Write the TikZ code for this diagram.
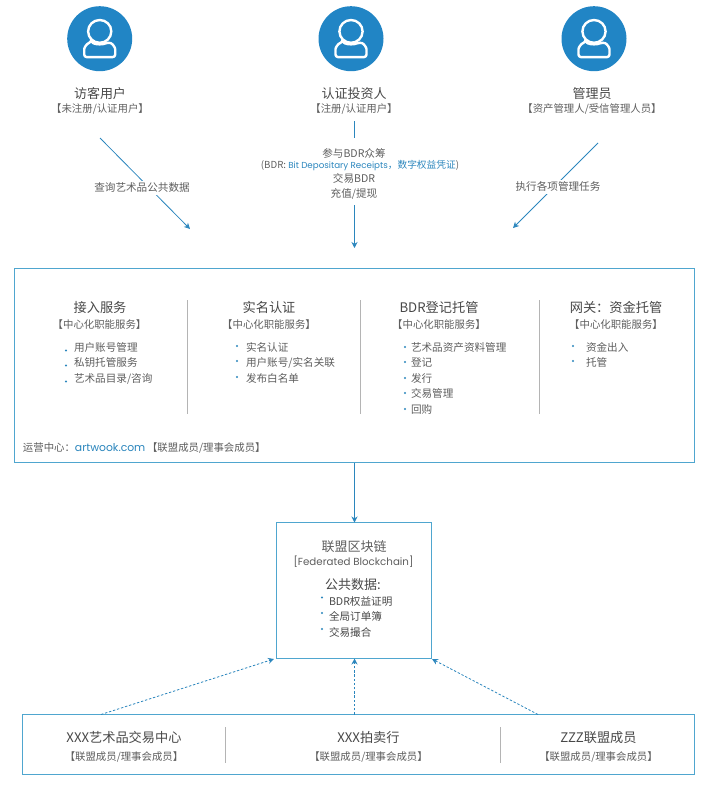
\documentclass[tikz,border=0pt]{standalone}
\usepackage{fontspec}
\setmainfont{Noto Sans CJK SC}
\newfontfamily\lat[Scale=0.9]{Poppins}
\usetikzlibrary{arrows.meta}
\definecolor{bluef}{HTML}{2185C5}
\definecolor{boxb}{HTML}{4FA6CF}
\definecolor{txt}{HTML}{5E5E5E}
\definecolor{ttl}{HTML}{484848}
\definecolor{lnk}{HTML}{2B86BD}
\definecolor{divg}{HTML}{B4B4B4}
\newcommand{\fsz}[1]{\fontsize{#1}{#1}\selectfont}
\newcommand{\LT}[1]{{\lat #1}}
\tikzset{
  every node/.style={inner sep=0pt,outer sep=0pt,text=txt},
  words/.style={yshift=-.8pt},
  avatar/.style={circle,fill=bluef,minimum size=65pt},
  rolename/.style={words,font=\fsz{13},text=ttl},
  sublabel/.style={words,font=\fsz{10.4},text=txt},
  cardtitle/.style={words,font=\fsz{13.2},text=ttl},
  itemtext/.style={words,font=\fsz{10.6},text=txt,anchor=west},
  dot/.style={circle,fill=lnk,minimum size=2.2pt},
  flowlabel/.style={words,font=\fsz{10.6},text=txt},
  frame/.style={draw=boxb,line width=1.1pt,fill=white},
  flow/.style={draw=lnk,line width=.8pt,-{Stealth[length=6pt,width=6pt]}},
  plainflow/.style={draw=lnk,line width=.8pt},
  dashflow/.style={flow,dash pattern=on 2.4pt off 1.8pt},
  vdiv/.style={draw=divg,line width=1pt},
  vdivthin/.style={draw=divg,line width=.7pt},
  pics/person/.style={code={
    \draw[white,line width=2.4pt] (0,-7.3) ellipse (11.6pt and 11.4pt);
    \draw[white,line width=2.4pt,line join=round,rounded corners=2.5pt]
      (-8.5,3.6) .. controls (-13,5) and (-15.5,9) .. (-15.5,13) -- (-15.5,18.4) -- (15.5,18.4) -- (15.5,13)
      .. controls (15.5,9) and (13,5) .. (8.5,3.6) .. controls (3,6) and (-3,6) .. (-8.5,3.6) -- cycle;
  }}
}
\begin{document}
\begin{tikzpicture}[x=1pt,y=-1pt]
\useasboundingbox (0,0) rectangle (713,785);
% avatars
\node[avatar] (av1) at (99.7,38.7) {};
\node[avatar] (av2) at (351,38.7) {};
\node[avatar] (av3) at (594,38.7) {};
\pic at (av1.center) {person};
\pic at (av2.center) {person};
\pic at (av3.center) {person};
\node[rolename] (r1) at (100,93) {访客用户};
\node[sublabel] (s1) at (100,108) {【未注册/认证用户】};
\node[rolename] (r2) at (354,93) {认证投资人};
\node[sublabel] (s2) at (354,108) {【注册/认证用户】};
\node[rolename] (r3) at (592,93) {管理员};
\node[sublabel] (s3) at (592,108) {【资产管理人/受信管理人员】};
% frames
\node[frame,minimum width=680pt,minimum height=194pt] (main) at (354.5,365.5) {};
\node[frame,minimum width=155pt,minimum height=136pt] (chain) at (354,590.5) {};
\node[frame,minimum width=672pt,minimum height=60pt] (members) at (358.5,744.5) {};
% top flows
\coordinate (a1s) at (100,138);
\coordinate (a1e) at (190,229);
\draw[flow] (a1s) -- (a1e);
\node[flowlabel,fill=white,inner sep=2pt] (l1) at (142,187) {查询艺术品公共数据};
\coordinate (a3s) at (598,143);
\coordinate (a3e) at (513,228);
\draw[flow] (a3s) -- (a3e);
\node[flowlabel,fill=white,inner sep=2pt] (l3) at (558,186) {执行各项管理任务};
\coordinate (a2s) at (354.5,121);
\coordinate (a2m) at (354.5,138);
\coordinate (a2n) at (354.5,205);
\coordinate (a2e) at (354.5,248);
\draw[plainflow] (a2s) -- (a2m);
\draw[flow] (a2n) -- (a2e);
\node[flowlabel] (m1) at (354,153) {参与BDR众筹};
\node[words,font=\fsz{9.7}] (m2) at (360,165) {(BDR: \textcolor{lnk}{\LT{Bit Depositary Receipts}，数字权益凭证})};
\node[flowlabel] (m3) at (354,178) {交易BDR};
\node[flowlabel] (m4) at (354,193) {充值/提现};
% dividers main
\coordinate (d1t) at (187.5,300); \coordinate (d1b) at (187.5,414);
\coordinate (d2t) at (360.5,300); \coordinate (d2b) at (360.5,414);
\coordinate (d3t) at (539.5,300); \coordinate (d3b) at (539.5,414);
\draw[vdiv] (d1t) -- (d1b);
\draw[vdiv] (d2t) -- (d2b);
\draw[vdiv] (d3t) -- (d3b);
% column 1
\node[cardtitle] (c1) at (100,307) {接入服务};
\node[sublabel] (c1s) at (99.5,324) {【中心化职能服务】};
\foreach \n/\yy/\tx in {a/347/用户账号管理,b/362/私钥托管服务,c/378/{艺术品目录/咨询}}{
  \node[itemtext] (i1\n) at (74,\yy) {\tx};
  \node[dot] (b1\n) at (66,\yy+3.5) {};
}
% column 2
\node[cardtitle] (c2) at (269,307) {实名认证};
\node[sublabel] (c2s) at (269,324) {【中心化职能服务】};
\foreach \n/\yy/\tx in {a/347/实名认证,b/362/{用户账号/实名关联},c/378/发布白名单}{
  \node[itemtext] (i2\n) at (246,\yy) {\tx};
  \node[dot] (b2\n) at (237,\yy-1) {};
}
% column 3
\node[cardtitle] (c3) at (439,307) {BDR登记托管};
\node[sublabel] (c3s) at (439,324) {【中心化职能服务】};
\foreach \n/\yy/\tx in {a/347/艺术品资产资料管理,b/362/登记,c/378/发行,d/393/交易管理,e/409/回购}{
  \node[itemtext] (i3\n) at (411,\yy) {\tx};
  \node[dot] (b3\n) at (405,\yy) {};
}
% column 4
\node[cardtitle] (c4) at (616,307) {网关：资金托管};
\node[sublabel] (c4s) at (616,324) {【中心化职能服务】};
\foreach \n/\yy/\tx in {a/347/资金出入,b/362/托管}{
  \node[itemtext] (i4\n) at (586,\yy) {\tx};
  \node[dot] (b4\n) at (573,\yy-1) {};
}
\node[words,font=\fsz{10.4},anchor=west] (ops) at (23,447) {运营中心：\textcolor{lnk}{\lat\fsz{12}artwook.com}\,【联盟成员/理事会成员】};
% main to chain
\draw[flow] (main.south) -- (main.south |- chain.north);
% chain
\node[words,font=\fsz{13},text=txt] (ct) at (354,546) {联盟区块链};
\node[words,font=\fsz{11.4}] (cen) at (353.5,561) {\LT{[Federated Blockchain]}};
\node[words,font=\fsz{13},text=ttl] (cp) at (353,584) {公共数据:};
\foreach \n/\yy/\tx in {a/600.5/BDR权益证明,b/616/全局订单簿,c/632/交易撮合}{
  \node[words,font=\fsz{10.6},anchor=west,text=ttl] (e\n) at (329,\yy) {\tx};
  \node[dot] (f\n) at (322,\yy-3) {};
}
% members
\coordinate (m1d) at (101,714.5);
\coordinate (m2d) at (354.5,714.5);
\coordinate (m3d) at (538,714.5);
\coordinate (t1) at (274,659);
\coordinate (t3) at (432,659);
\draw[dashflow] (m1d) -- (t1);
\draw[dashflow] (m2d) -- (m2d |- chain.south);
\draw[dashflow] (m3d) -- (t3);
\coordinate (e1t) at (225.5,727); \coordinate (e1b) at (225.5,763);
\coordinate (e2t) at (500.5,727); \coordinate (e2b) at (500.5,763);
\draw[vdivthin] (e1t) -- (e1b);
\draw[vdivthin] (e2t) -- (e2b);
\node[cardtitle] (h1) at (124,737) {XXX艺术品交易中心};
\node[sublabel] (h1s) at (124,756) {【联盟成员/理事会成员】};
\node[cardtitle] (h2) at (368.5,737) {XXX拍卖行};
\node[sublabel] (h2s) at (368.5,756) {【联盟成员/理事会成员】};
\node[cardtitle] (h3) at (598.5,737) {ZZZ联盟成员};
\node[sublabel] (h3s) at (598.5,756) {【联盟成员/理事会成员】};
\end{tikzpicture}
\end{document}
